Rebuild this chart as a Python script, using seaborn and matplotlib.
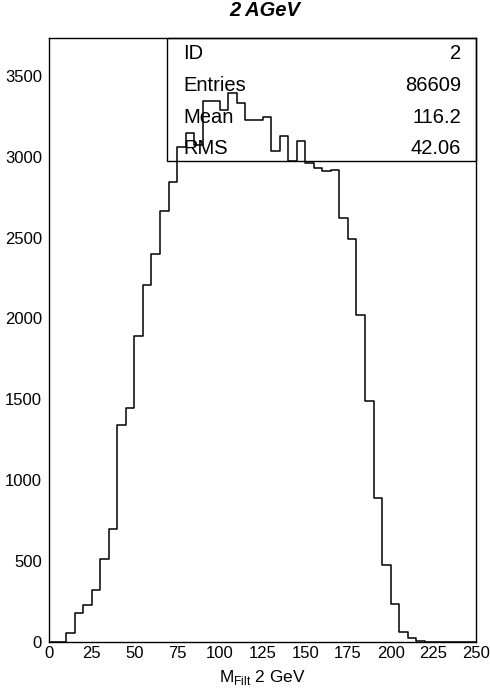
import numpy as np
import pandas as pd
import matplotlib
matplotlib.use("Agg")
import matplotlib.pyplot as plt
import seaborn as sns
from matplotlib.patches import Rectangle
from matplotlib.ticker import MultipleLocator

# ---- data ----
bin_edges = list(range(0, 255, 5))
counts = [0, 0, 54, 177, 227, 320, 511, 697, 1341, 1446,
          1890, 2205, 2397, 2662, 2842, 3060, 3148, 3070, 3342, 3342,
          3289, 3393, 3335, 3225, 3230, 3243, 3033, 3128, 2972, 3095,
          2959, 2930, 2909, 2915, 2619, 2489, 2021, 1490, 888, 474,
          233, 64, 23, 5, 0, 0, 0, 0, 0, 0]
stat_names = ["ID", "Entries", "Mean", "RMS"]
stat_values = ["2", "86609", "116.2", "42.06"]
title = "2 AGeV"
x_ticks = list(range(0, 251, 25))
y_ticks = list(range(0, 3501, 500))

centers = [(bin_edges[i] + bin_edges[i + 1]) / 2 for i in range(len(counts))]
df = pd.DataFrame({"x": centers, "w": counts})

sns.set_style("white")
plt.rcParams["font.family"] = ["Liberation Sans", "DejaVu Sans"]
plt.rcParams["mathtext.fontset"] = "custom"
plt.rcParams["mathtext.rm"] = "Liberation Sans"
for k in ["text.color", "axes.labelcolor", "xtick.color", "ytick.color", "axes.edgecolor"]:
    plt.rcParams[k] = "black"

fig = plt.figure(figsize=(4.9, 6.93), dpi=100)
ax = fig.add_axes([49 / 490, 1 - 642 / 693, (476 - 49) / 490, (642 - 38) / 693])

sns.histplot(data=df, x="x", weights="w", bins=bin_edges, element="step",
             fill=False, color="black", linewidth=1.1, ax=ax)

ax.set_xlim(0, 250)
ax.set_ylim(0, 3734)
ax.set_xticks(x_ticks)
ax.set_yticks(y_ticks)
ax.xaxis.set_minor_locator(MultipleLocator(5))
ax.yaxis.set_minor_locator(MultipleLocator(250))
ax.tick_params(axis="both", which="major", direction="in", length=5, width=1,
               labelsize=12, colors="black")
ax.tick_params(axis="both", which="minor", direction="in", length=2.6, width=1)
ax.tick_params(axis="y", which="major", pad=5)
ax.tick_params(axis="x", which="major", pad=3)
ax.set_ylabel("")
ax.set_xlabel(r"M$_{\rm Filt}$ 2 GeV", fontsize=12.4, labelpad=5)
for s in ax.spines.values():
    s.set_color("black")
    s.set_linewidth(1.0)
    s.set_visible(True)

fig.text((49 + 476) / 2 / 490 + 0.005, 1 - 10 / 693, title, ha="center", va="center",
         fontsize=14.5, fontweight="bold", fontstyle="italic")

# stats box
bx0 = (167 - 49) / 427
by0 = (642 - 161) / 604
ax.add_patch(Rectangle((bx0, by0), 1 - bx0, 1 - by0, transform=ax.transAxes,
                       fill=False, edgecolor="black", linewidth=1.0,
                       clip_on=False, zorder=5))
row_y = [53.5, 85.5, 117.5, 148.5]
for name, val, py in zip(stat_names, stat_values, row_y):
    yf = (642 - py) / 604
    ax.text((183 - 49) / 427, yf, name, transform=ax.transAxes, ha="left",
            va="center", fontsize=14.5, zorder=6)
    ax.text((461 - 49) / 427, yf, val, transform=ax.transAxes, ha="right",
            va="center", fontsize=14.5, zorder=6)

fig.savefig("out.png", dpi=100)
